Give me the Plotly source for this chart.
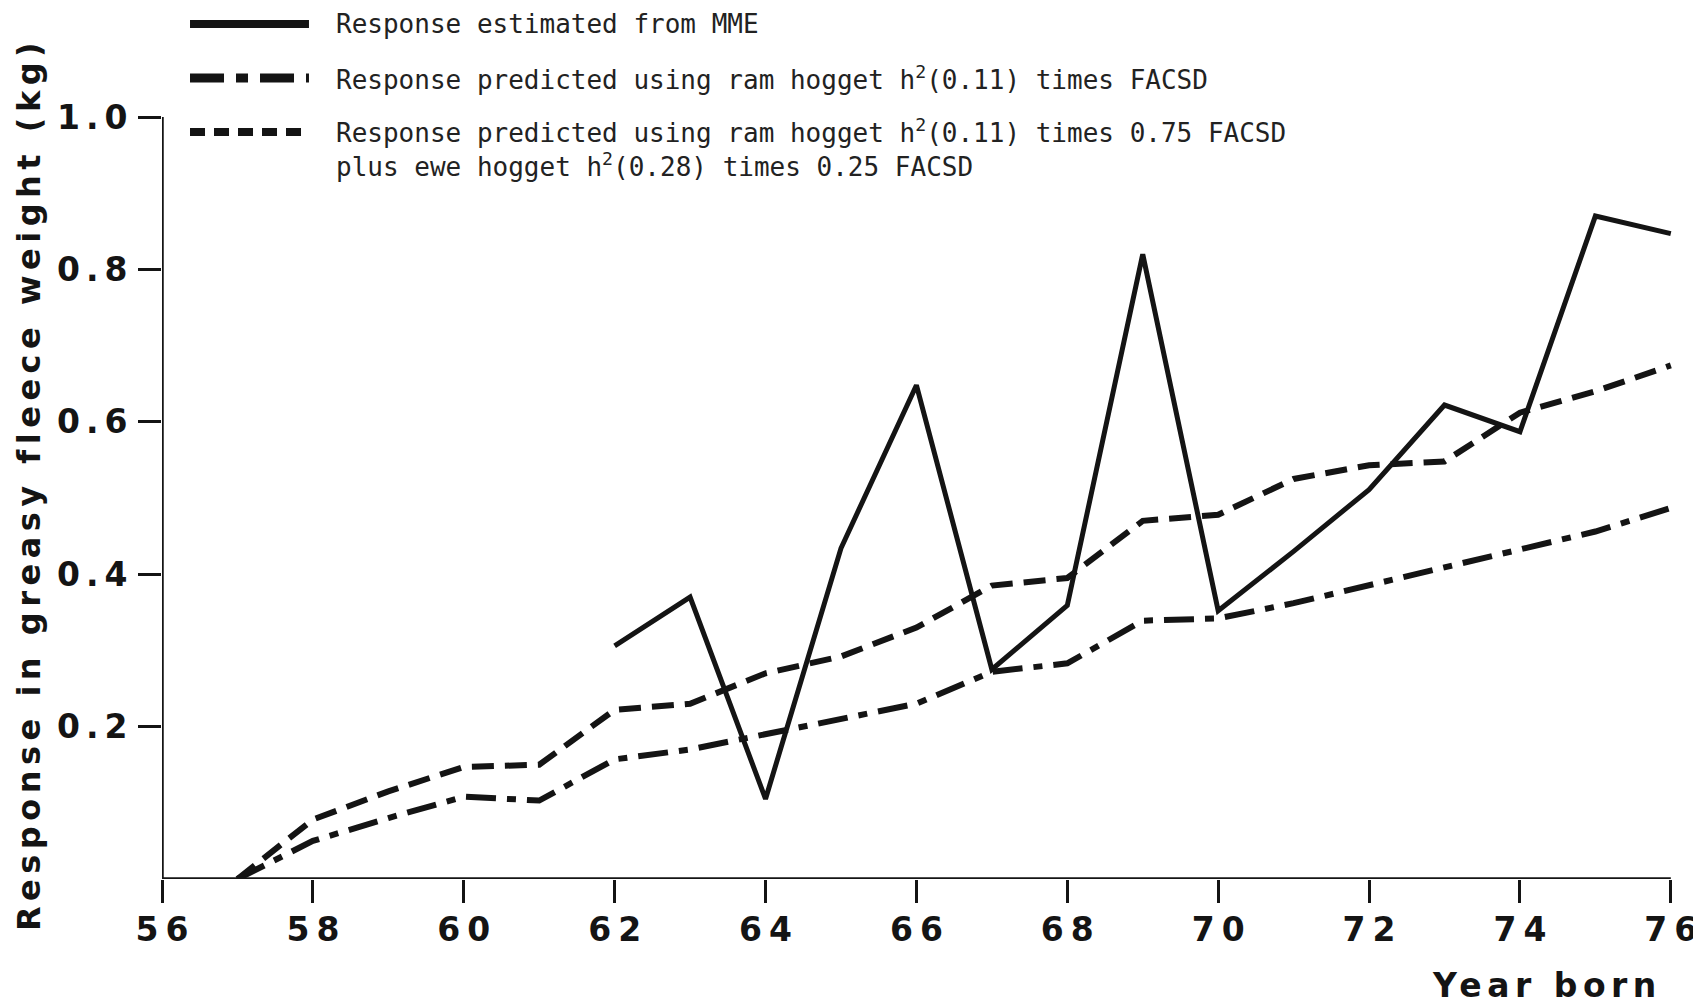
import plotly.graph_objects as go

# ---- data ----
years_mme = [62, 63, 64, 65, 66, 67, 68, 69, 70, 71, 72, 73, 74, 75, 76]
resp_mme = [0.306, 0.370, 0.105, 0.434, 0.648, 0.275, 0.359, 0.820, 0.352,
            0.430, 0.511, 0.622, 0.587, 0.870, 0.847]

years_pred = [57, 58, 59, 60, 61, 62, 63, 64, 65, 66, 67, 68, 69, 70, 71, 72, 73, 74, 75, 76]
resp_ram = [0.0, 0.050, 0.080, 0.108, 0.103, 0.157, 0.170, 0.190, 0.210, 0.230,
            0.272, 0.283, 0.339, 0.342, 0.362, 0.385, 0.410, 0.432, 0.456, 0.487]
resp_ram_ewe = [0.0, 0.078, 0.115, 0.147, 0.150, 0.222, 0.230, 0.270, 0.292, 0.330,
                0.385, 0.395, 0.470, 0.478, 0.525, 0.543, 0.548, 0.612, 0.640, 0.674]

x_ticks = [56, 58, 60, 62, 64, 66, 68, 70, 72, 74, 76]
x_ticktext = ["56", "58", "60", "62", "64", "66", "68", "70", "72", "74", "76"]
y_ticks = [0.2, 0.4, 0.6, 0.8, 1.0]
y_ticktext = ["0.2", "0.4", "0.6", "0.8", "1.0"]

legend_texts = [
    "Response estimated from MME",
    "Response predicted using ram hogget h<sup>2</sup>(0.11) times FACSD",
    "Response predicted using ram hogget h<sup>2</sup>(0.11) times 0.75 FACSD<br>"
    "plus ewe hogget h<sup>2</sup>(0.28) times 0.25 FACSD",
]
x_title = "Year born"
y_title = "Response in greasy fleece weight (kg)"

INK = "#141414"
DASHDOT = "30px,11px,9px,11px"
DASHED = "22px,11px"


def spaced(text, px):
    """Letter-spaced label (text content unchanged); no trailing space after last char."""
    return f'<span style="letter-spacing:{px}px">{text[:-1]}</span>{text[-1]}'


fig = go.Figure()
fig.add_trace(go.Scatter(x=years_mme, y=resp_mme, mode="lines",
                         line=dict(color=INK, width=5), showlegend=False))
fig.add_trace(go.Scatter(x=years_pred, y=resp_ram, mode="lines",
                         line=dict(color=INK, width=6, dash=DASHDOT), showlegend=False))
fig.add_trace(go.Scatter(x=years_pred, y=resp_ram_ewe, mode="lines",
                         line=dict(color=INK, width=6, dash=DASHED), showlegend=False))

# axis lines (x-axis ends at last tick, y-axis ends at top tick)
fig.add_shape(type="line", xref="x", yref="y", x0=x_ticks[0], x1=x_ticks[-1], y0=0, y1=0,
              line=dict(color=INK, width=3.5))
fig.add_shape(type="line", xref="x", yref="y", x0=x_ticks[0], x1=x_ticks[0], y0=0, y1=y_ticks[-1],
              line=dict(color=INK, width=3.5))

# legend keys
key_x0, key_x1 = 0.0182, 0.0955
key_rows = [1.1220, 1.0512, 0.9803]
fig.add_shape(type="line", xref="paper", yref="paper", x0=key_x0, x1=key_x1,
              y0=key_rows[0], y1=key_rows[0], line=dict(color=INK, width=8))
fig.add_shape(type="line", xref="paper", yref="paper", x0=key_x0, x1=key_x1,
              y0=key_rows[1], y1=key_rows[1], line=dict(color=INK, width=9, dash="34px,12px,12px,12px"))
fig.add_shape(type="line", xref="paper", yref="paper", x0=key_x0, x1=key_x1,
              y0=key_rows[2], y1=key_rows[2], line=dict(color=INK, width=8, dash="15px,9px"))

leg_font = dict(family="DejaVu Sans Mono", size=26, color="#222")
fig.add_annotation(xref="paper", yref="paper", x=0.1118, y=key_rows[0], text=legend_texts[0],
                   showarrow=False, xanchor="left", yanchor="middle", align="left", font=leg_font)
fig.add_annotation(xref="paper", yref="paper", x=0.1118, y=key_rows[1], text=legend_texts[1],
                   showarrow=False, xanchor="left", yanchor="middle", align="left", font=leg_font)
fig.add_annotation(xref="paper", yref="paper", x=0.1118, y=0.9587, text=legend_texts[2],
                   showarrow=False, xanchor="left", yanchor="middle", align="left", font=leg_font)

fig.add_annotation(xref="paper", yref="paper", x=-0.0864, y=0.5144, text=spaced(y_title, 5.5),
                   textangle=-90, showarrow=False, xanchor="center", yanchor="middle",
                   font=dict(family="DejaVu Sans", size=32, color=INK, weight="bold"))
fig.add_annotation(xref="paper", yref="paper", x=0.972, y=-0.1404, text=spaced(x_title, 5.5),
                   showarrow=False, xanchor="right", yanchor="middle",
                   font=dict(family="DejaVu Sans", size=33, color=INK, weight="bold"))

tick_font = dict(family="DejaVu Sans", size=33, color=INK, weight="bold")
fig.update_xaxes(range=[56, 76.4], tickvals=x_ticks, ticktext=[spaced(t, 7) for t in x_ticktext],
                 ticks="outside", ticklen=23, tickwidth=3, tickcolor=INK, showline=False,
                 showgrid=False, zeroline=False, tickfont=tick_font, automargin=False,
                 ticklabelstandoff=-2)
fig.update_yaxes(range=[0, 1.0], tickvals=y_ticks, ticktext=[spaced(t, 6) for t in y_ticktext],
                 ticks="outside", ticklen=23, tickwidth=3, tickcolor=INK, showline=False,
                 showgrid=False, zeroline=False, tickfont=tick_font, automargin=False,
                 ticklabelstandoff=4)

# page body has an 8px margin, so the figure is sized/positioned to compensate
fig.update_layout(width=1693, height=998, plot_bgcolor="white", paper_bgcolor="white",
                  margin=dict(l=154, r=0, t=109, b=127, autoexpand=False), showlegend=False)

fig.write_html("out.html")
